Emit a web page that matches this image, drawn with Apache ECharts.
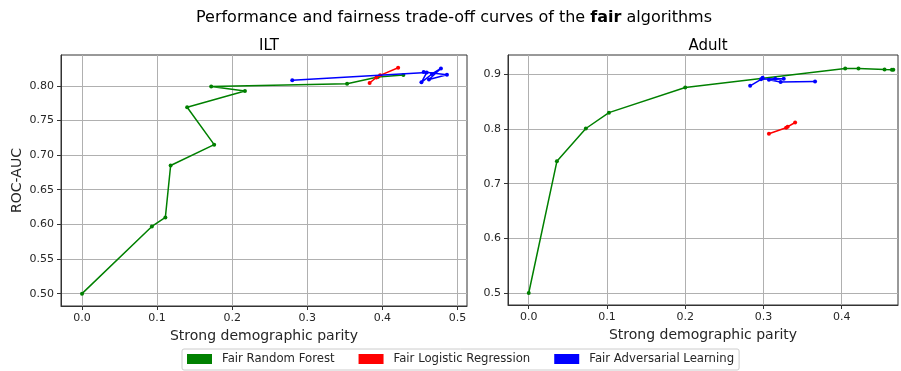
<!DOCTYPE html>
<html>
<head>
<meta charset="utf-8">
<script src="https://cdn.jsdelivr.net/npm/echarts@6/dist/echarts.min.js"></script>
<style>
  html, body { margin: 0; padding: 0; background: #fff; }
  #chart { width: 901px; height: 371px; }
</style>
</head>
<body>
<div id="chart"></div>
<script>
// Algorithm names and colours
const algoNames = ['Fair Random Forest', 'Fair Logistic Regression', 'Fair Adversarial Learning'];
const algoColors = ['#008000', '#ff0000', '#0000ff'];

// ILT dataset: [strong demographic parity, ROC-AUC]
const iltForest = [[0, 0.5], [0.093, 0.597], [0.111, 0.61], [0.118, 0.685], [0.176, 0.715], [0.14, 0.769],
  [0.217, 0.7925], [0.172, 0.799], [0.353, 0.803], [0.394, 0.8125], [0.428, 0.8155]];
const iltLogistic = [[0.383, 0.804], [0.392, 0.812], [0.397, 0.815], [0.421, 0.826]];
const iltAdversarial = [[0.28, 0.808], [0.459, 0.819], [0.452, 0.805], [0.466, 0.817], [0.478, 0.825],
  [0.462, 0.809], [0.486, 0.816], [0.455, 0.82]];

// Adult dataset
const adultForest = [[0, 0.5], [0.036, 0.741], [0.073, 0.801], [0.1025, 0.83], [0.2, 0.876],
  [0.4045, 0.911], [0.4215, 0.911], [0.4548, 0.909], [0.4642, 0.9086], [0.466, 0.9085]];
const adultLogistic = [[0.307, 0.7915], [0.329, 0.8025], [0.331, 0.804], [0.3405, 0.812]];
const adultAdversarial = [[0.283, 0.879], [0.297, 0.891], [0.299, 0.894], [0.315, 0.892], [0.326, 0.892],
  [0.307, 0.89], [0.322, 0.886], [0.366, 0.887]];

// Tick values
const iltXTicks = [0, 0.1, 0.2, 0.3, 0.4, 0.5];
const iltYTicks = [0.5, 0.55, 0.6, 0.65, 0.7, 0.75, 0.8];
const adultXTicks = [0, 0.1, 0.2, 0.3, 0.4];
const adultYTicks = [0.5, 0.6, 0.7, 0.8, 0.9];

const FONT = 'DejaVu Sans';
const INK = '#262626';

function valueAxis(gridIndex, min, max, ticks, decimals, extra) {
  return Object.assign({
    type: 'value',
    gridIndex: gridIndex,
    min: min,
    max: max,
    axisLine: { show: true, onZero: false, lineStyle: { color: '#333', width: 1 } },
    axisTick: { show: true, length: 4, customValues: ticks, lineStyle: { color: '#333' } },
    axisLabel: {
      customValues: ticks,
      margin: 7,
      color: INK,
      fontFamily: FONT,
      fontSize: 11,
      formatter: v => Number(v).toFixed(decimals)
    },
    splitLine: { show: true, lineStyle: { color: '#b0b0b0', width: 1 } },
    nameTextStyle: { color: INK, fontFamily: FONT, fontSize: 14 }
  }, extra || {});
}

function lineSeries(nameIdx, data, xi, yi) {
  return {
    name: algoNames[nameIdx],
    type: 'line',
    xAxisIndex: xi,
    yAxisIndex: yi,
    data: data,
    symbol: 'circle',
    symbolSize: 4,
    showSymbol: true,
    animation: false,
    itemStyle: { color: algoColors[nameIdx] },
    lineStyle: { color: algoColors[nameIdx], width: 1.5 },
    z: 3 + nameIdx
  };
}

const chart = echarts.init(document.getElementById('chart'), null, { renderer: 'canvas' });

chart.setOption({
  animation: false,
  backgroundColor: '#fff',
  textStyle: { fontFamily: FONT },
  title: [
    {
      text: '{a|Performance and fairness trade-off curves of the }{b|fair}{a| algorithms}',
      left: 449, top: 5, textAlign: 'center',
      textStyle: {
        fontWeight: 'normal',
        rich: {
          a: { fontFamily: FONT, fontSize: 16, fontWeight: 'normal', color: '#000' },
          b: { fontFamily: FONT, fontSize: 16, fontWeight: 'bold', color: '#000' }
        }
      }
    },
    { text: 'ILT', left: 264, top: 34, textAlign: 'center',
      textStyle: { fontFamily: FONT, fontSize: 15, fontWeight: 'normal', color: '#000' } },
    { text: 'Adult', left: 703, top: 34, textAlign: 'center',
      textStyle: { fontFamily: FONT, fontSize: 15, fontWeight: 'normal', color: '#000' } }
  ],
  legend: {
    data: algoNames,
    left: 182, top: 349,
    icon: 'rect',
    itemWidth: 25, itemHeight: 10, itemGap: 24,
    padding: [4, 5, 5, 5],
    borderColor: '#cccccc', borderWidth: 1, borderRadius: 2,
    textStyle: { fontFamily: FONT, fontSize: 11.7, color: INK, padding: [0, 0, 0, 5] }
  },
  grid: [
    { left: 61, top: 55, width: 406, height: 251, show: true, borderColor: '#333', borderWidth: 1, backgroundColor: 'transparent' },
    { left: 508, top: 55, width: 390, height: 250, show: true, borderColor: '#333', borderWidth: 1, backgroundColor: 'transparent' }
  ],
  xAxis: [
    valueAxis(0, -0.028, 0.5127, iltXTicks, 1, { name: 'Strong demographic parity', nameLocation: 'middle', nameGap: 21 }),
    valueAxis(1, -0.0265, 0.472, adultXTicks, 1, { name: 'Strong demographic parity', nameLocation: 'middle', nameGap: 21 })
  ],
  yAxis: [
    valueAxis(0, 0.4822, 0.8444, iltYTicks, 2, { name: 'ROC-AUC', nameLocation: 'middle', nameGap: 37 }),
    valueAxis(1, 0.478, 0.9355, adultYTicks, 1)
  ],
  series: [
    lineSeries(0, iltForest, 0, 0),
    lineSeries(1, iltLogistic, 0, 0),
    lineSeries(2, iltAdversarial, 0, 0),
    lineSeries(0, adultForest, 1, 1),
    lineSeries(1, adultLogistic, 1, 1),
    lineSeries(2, adultAdversarial, 1, 1)
  ]
});
</script>
</body>
</html>
